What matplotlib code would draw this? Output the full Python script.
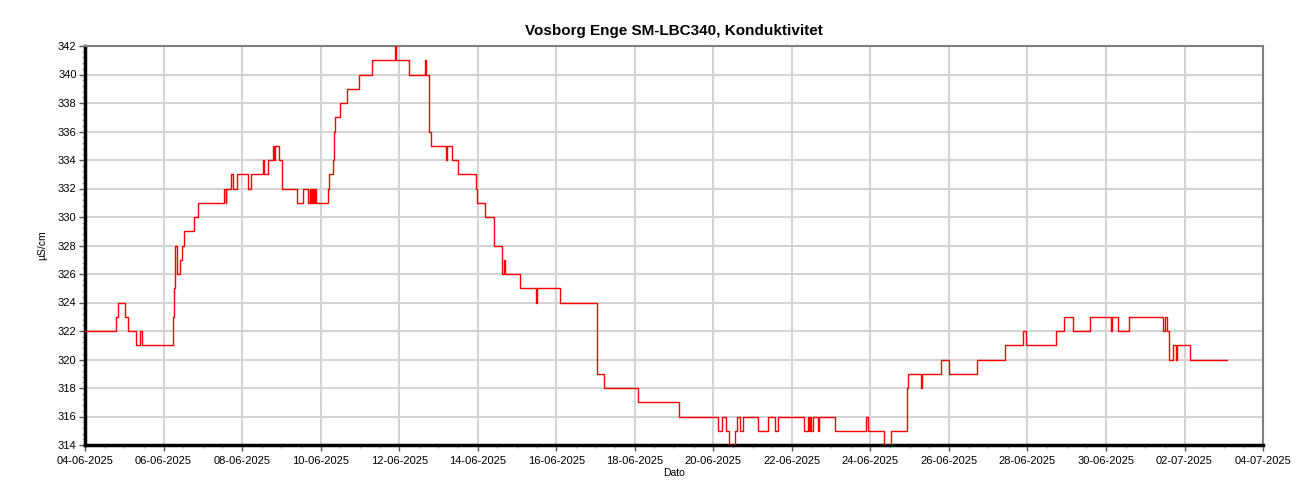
import numpy as np
import pandas as pd
import matplotlib
matplotlib.use('Agg')
import matplotlib.pyplot as plt
import matplotlib.dates as mdates
from matplotlib.ticker import MultipleLocator

start = pd.Timestamp('2025-06-04 00:00')

# change points: days since start, conductivity (µS/cm)
step_days = [0.00, 0.78, 0.85, 1.02, 1.10, 1.29, 1.40, 1.46, 2.25, 2.27, 2.30, 2.35,
             2.42, 2.48, 2.53, 2.77, 2.88, 3.55, 3.58, 3.60, 3.73, 3.76, 3.86, 4.16,
             4.22, 4.52, 4.55, 4.65, 4.78, 4.81, 4.83, 4.94, 5.01, 5.41, 5.56, 5.69,
             5.72, 5.74, 5.76, 5.78, 5.80, 5.82, 5.85, 5.87, 6.20, 6.22, 6.31, 6.34,
             6.37, 6.50, 6.68, 6.97, 7.32, 7.89, 7.92, 8.26, 8.66, 8.68, 8.76, 8.81,
             9.19, 9.22, 9.35, 9.50, 9.95, 9.98, 10.18, 10.41, 10.62, 10.66, 10.69,
             11.08, 11.48, 11.52, 12.10, 13.03, 13.22, 14.09, 15.13, 16.13, 16.23,
             16.33, 16.40, 16.55, 16.60, 16.68, 16.75, 17.15, 17.39, 17.56, 17.65,
             18.32, 18.41, 18.44, 18.47, 18.50, 18.54, 18.66, 18.70, 19.10, 19.90,
             19.94, 20.35, 20.52, 20.94, 20.97, 21.28, 21.31, 21.79, 22.00, 22.71,
             23.43, 23.89, 23.97, 24.72, 24.92, 25.15, 25.59, 26.13, 26.16, 26.30,
             26.59, 27.46, 27.49, 27.56, 27.60, 27.71, 27.77, 27.81, 28.14, 29.07]
step_values = [322, 323, 324, 323, 322, 321, 322, 321, 323, 325, 328, 326,
               327, 328, 329, 330, 331, 332, 331, 332, 333, 332, 333, 332,
               333, 334, 333, 334, 335, 334, 335, 334, 332, 331, 332, 331,
               332, 331, 332, 331, 332, 331, 332, 331, 332, 333, 334, 336,
               337, 338, 339, 340, 341, 342, 341, 340, 341, 340, 336, 335,
               334, 335, 334, 333, 332, 331, 330, 328, 326, 327, 326,
               325, 324, 325, 324, 319, 318, 317, 316, 315, 316,
               315, 314, 315, 316, 315, 316, 315, 316, 315, 316,
               315, 316, 315, 316, 315, 316, 315, 316, 315, 316,
               315, 314, 315, 318, 319, 318, 319, 320, 319, 320,
               321, 322, 321, 322, 323, 322, 323, 322, 323, 322,
               323, 322, 323, 322, 320, 321, 320, 321, 320, 320]

title = 'Vosborg Enge SM-LBC340, Konduktivitet'

plt.rcParams['font.family'] = ['Liberation Sans', 'DejaVu Sans']

times = [start + pd.Timedelta(days=d) for d in step_days]

fig = plt.figure(figsize=(13, 5), dpi=100)
ax = fig.add_axes([0.0654, 0.11, 0.9062, 0.798])

ax.plot(times, step_values, color='#ff0000', linewidth=1.0, drawstyle='steps-post', zorder=3)

ax.set_xlim(start, pd.Timestamp('2025-07-04'))
ax.set_ylim(314, 342)

major_dates = pd.date_range('2025-06-04', '2025-07-04', freq='2D')
ax.set_xticks(mdates.date2num(major_dates))
ax.xaxis.set_major_formatter(mdates.DateFormatter('%d-%m-%Y'))
ax.set_xticks(mdates.date2num(pd.date_range('2025-06-04', '2025-07-04', freq='12h')), minor=True)
ax.yaxis.set_major_locator(MultipleLocator(2))
ax.yaxis.set_minor_locator(MultipleLocator(0.4))

ax.grid(True, which='major', color='#d4d4d4', linewidth=1.5, zorder=0)
ax.set_axisbelow(True)

ax.tick_params(axis='both', which='major', labelsize=8, length=4, width=1, color='#555555', pad=2)
ax.tick_params(axis='x', which='major', pad=4)
ax.tick_params(axis='both', which='minor', length=2, width=1, color='#aaaaaa')

for side in ['left', 'bottom']:
    ax.spines[side].set_linewidth(2.5)
    ax.spines[side].set_color('black')
for side in ['top', 'right']:
    ax.spines[side].set_linewidth(1.5)
    ax.spines[side].set_color('#808080')

ax.set_title(title, fontsize=11, fontweight='bold', pad=8)
ax.set_xlabel('Dato', fontsize=7.5, labelpad=1)
ax.set_ylabel('µS/cm', fontsize=7.5, labelpad=8)

fig.savefig('out.png', dpi=100)
